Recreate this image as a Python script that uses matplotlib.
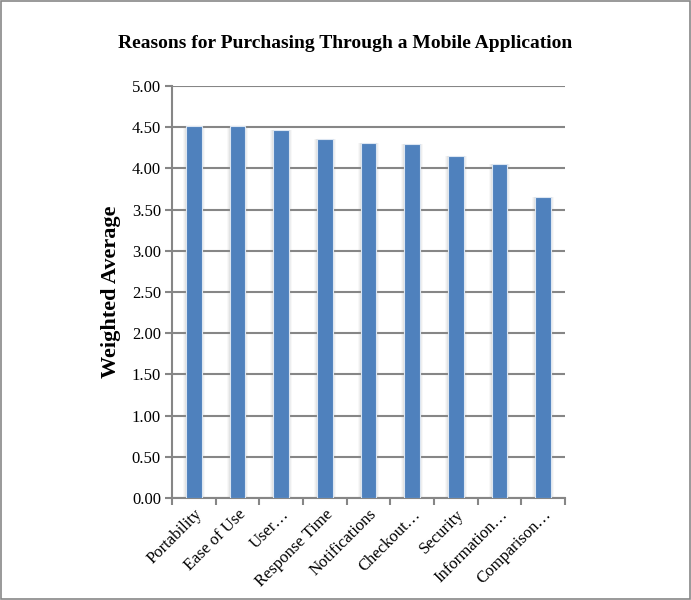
import numpy as np
import matplotlib.pyplot as plt
from matplotlib.patches import Rectangle

plt.rcParams["font.family"] = ["Liberation Serif", "DejaVu Serif"]

# data
reasons = ["Portability", "Ease of Use", "User…", "Response Time", "Notifications",
           "Checkout…", "Security", "Information…", "Comparison…"]
weighted_avg = [4.52, 4.51, 4.47, 4.36, 4.31, 4.30, 4.15, 4.05, 3.65]
y_ticks = [0.0, 0.5, 1.0, 1.5, 2.0, 2.5, 3.0, 3.5, 4.0, 4.5, 5.0]

fig = plt.figure(figsize=(6.91, 6.0), dpi=100)
ax = fig.add_axes([172/691, 1 - 498/600, (565-172)/691, (498-86)/600])

x = np.arange(len(reasons))
# soft shadow behind bars
for off, a in [(0.07, 0.06), (0.045, 0.08), (0.025, 0.10)]:
    ax.bar(x, weighted_avg, width=0.36 + 2*off, color="#8c8c8c", alpha=a, zorder=2, linewidth=0)
ax.bar(x, weighted_avg, width=0.36, color="#4F81BD", edgecolor="#dce6f2", linewidth=0.8, zorder=3)

ax.set_xlim(-0.5, len(reasons) - 0.5)
ax.set_ylim(0, 5)
ax.set_yticks(y_ticks)
ax.set_yticklabels([f"{v:.2f}" for v in y_ticks], fontsize=12)
ax.yaxis.grid(True, color="#868686", linewidth=1.5, zorder=1)
ax.set_axisbelow(True)

ax.set_xticks(np.arange(len(reasons) + 1) - 0.5)
ax.set_xticklabels([])
ax.set_xticks(x, minor=True)
ax.set_xticklabels(reasons, minor=True, rotation=45, ha="right", rotation_mode="anchor", fontsize=12)
ax.tick_params(axis="x", which="minor", length=0, pad=6)
ax.tick_params(axis="x", which="major", length=5, width=1.5, color="#868686")
ax.tick_params(axis="y", length=5, width=1.5, color="#868686", pad=3)

for s in ["top", "right"]:
    ax.spines[s].set_visible(False)
for s in ["left", "bottom"]:
    ax.spines[s].set_color("#868686")
    ax.spines[s].set_linewidth(1.5)

ax.set_ylabel("Weighted Average", fontsize=16, fontweight="bold", labelpad=8)
fig.text(0.5, 1 - 43/600, "Reasons for Purchasing Through a Mobile Application",
         ha="center", va="center", fontsize=14, fontweight="bold")

fig.patches.append(Rectangle((0.002, 0.002), 0.996, 0.996, transform=fig.transFigure,
                             fill=False, edgecolor="#878787", linewidth=1.2))

fig.savefig("out.png", dpi=100)
